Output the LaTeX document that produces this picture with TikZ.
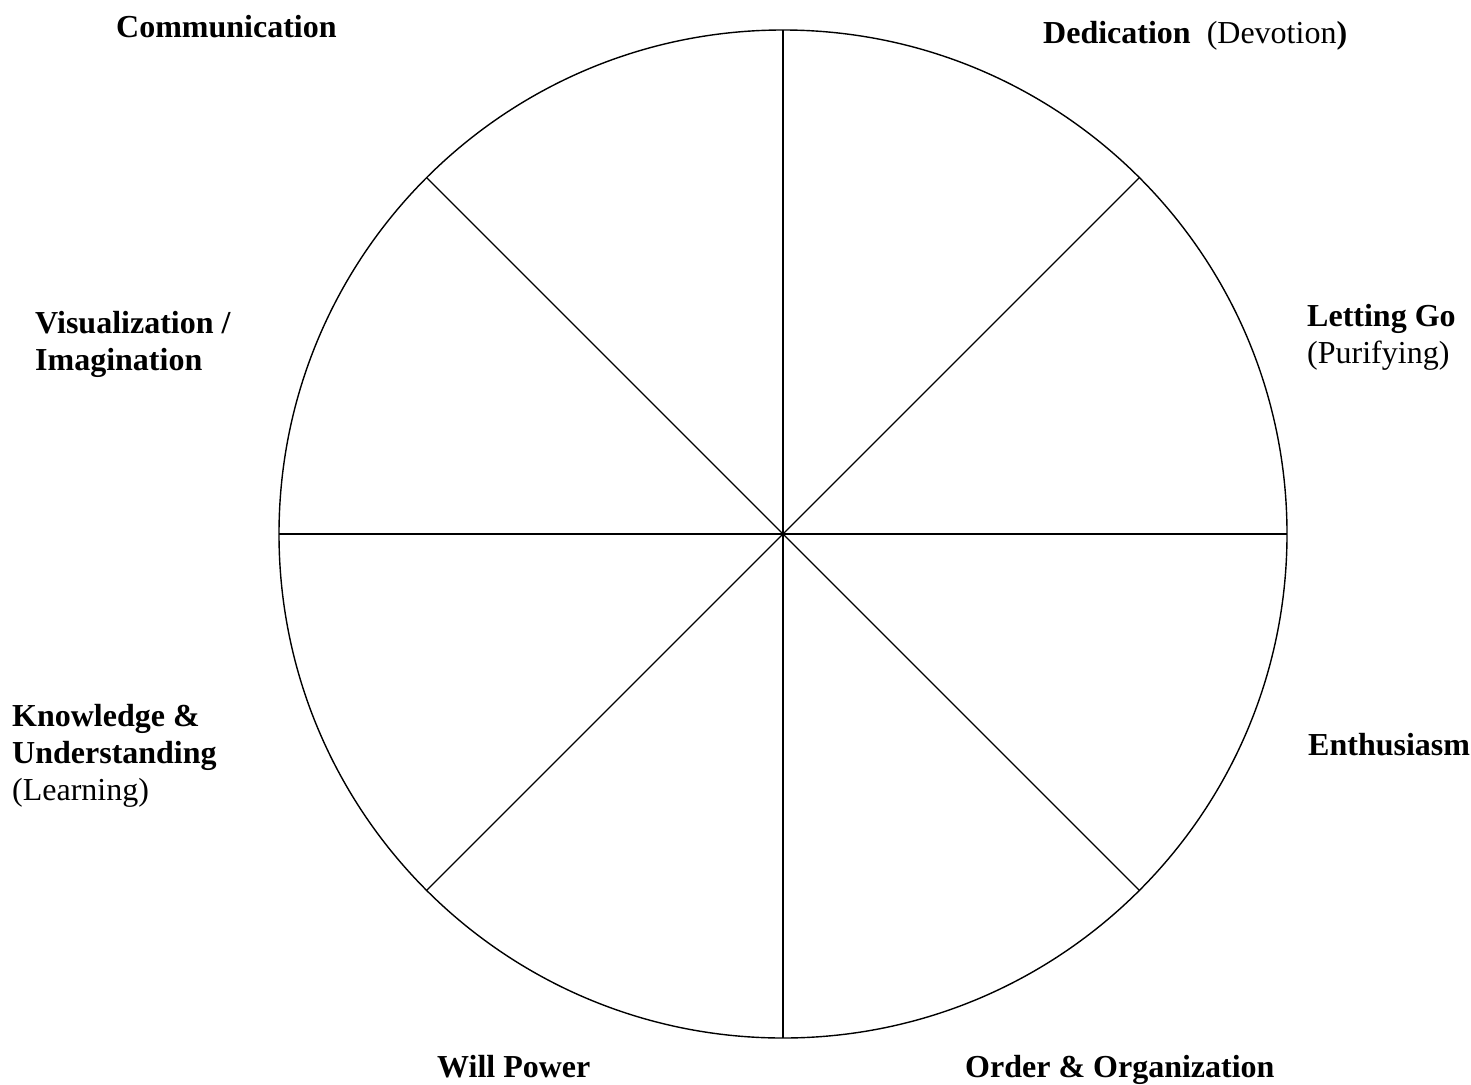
\documentclass[tikz,border=0pt]{standalone}
\usepackage{fontspec}
\setmainfont{Liberation Serif}
\usetikzlibrary{calc}
\begin{document}
\begin{tikzpicture}[x=1pt,y=-1pt,
  lbl/.style={anchor=base west,inner sep=0pt,font=\fontsize{32}{37}\selectfont},
  wheel/.style={line width=1.4pt},
  spoke/.style={line width=1.2pt}]
\useasboundingbox (0,0) rectangle (1471,1084);
\coordinate (c) at (783,534);
\draw[wheel] (c) circle (504);
\foreach \a/\n in {0/e,45/ne,90/n,135/nw,180/w,225/sw,270/s,315/se}
  \coordinate (p\n) at ($(c)+(\a:504)$);
\draw[spoke] (pn) -- (ps);
\draw[spoke] (pw) -- (pe);
\draw[spoke] (pnw) -- (pse);
\draw[spoke] (pne) -- (psw);
\node[lbl] (comm) at (116,37) {\textbf{Communication}};
\node[lbl] (ded) at (1043,43) {\textbf{Dedication}\ \ (Devotion\textbf{)}};
\node[lbl] (vis1) at (35,333) {\textbf{Visualization /}};
\node[lbl] (vis2) at (35,370) {\textbf{Imagination}};
\node[lbl] (let1) at (1307,326) {\textbf{Letting Go}};
\node[lbl] (let2) at (1307,363) {(Purifying)};
\node[lbl] (kn1) at (12,726) {\textbf{Knowledge \&}};
\node[lbl] (kn2) at (12,763) {\textbf{Understanding}};
\node[lbl] (kn3) at (12,800) {(Learning)};
\node[lbl] (ent) at (1308,755) {\textbf{Enthusiasm}};
\node[lbl] (will) at (437,1077) {\textbf{Will Power}};
\node[lbl] (ord) at (965,1077) {\textbf{Order \& Organization}};
\end{tikzpicture}
\end{document}
